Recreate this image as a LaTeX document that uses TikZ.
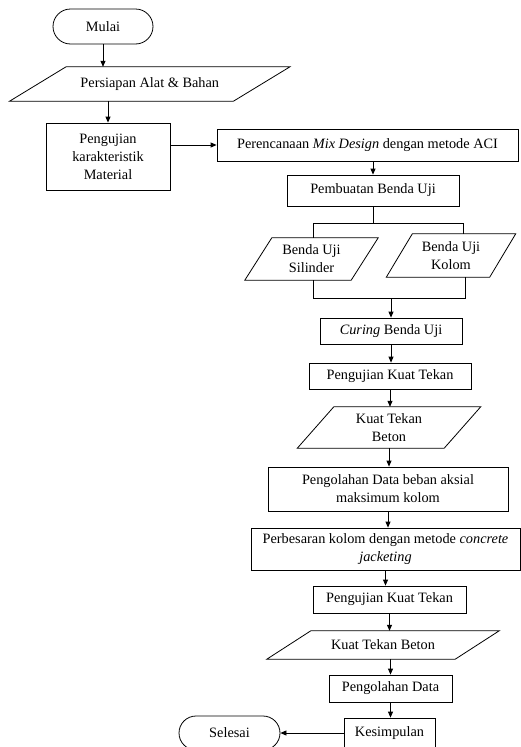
\documentclass[tikz,border=0pt]{standalone}
\usepackage{fontspec}
\setmainfont{Liberation Serif}
\usetikzlibrary{arrows.meta,shapes.misc,calc}
\newcommand{\mypara}[7]{%
  \node[pnode, minimum width=#4pt, minimum height=#5pt] (#1) at (#2,#3) {#7};
  \draw[line] ($(#1.north west)+(#6/2,0)$) -- ($(#1.north east)+(#6/2,0)$) -- ($(#1.south east)+(-#6/2,0)$) -- ($(#1.south west)+(-#6/2,0)$) -- cycle;}
\begin{document}
\begin{tikzpicture}[x=1pt,y=-1pt,
  every node/.style={font=\fontsize{14.3}{18}\selectfont, inner sep=0pt, align=center},
  line/.style={draw=black, line width=0.8pt},
  box/.style={draw=black, line width=0.8pt, rectangle},
  pnode/.style={rectangle},
  term/.style={draw=black, line width=0.8pt, rounded rectangle},
  arr/.style={line, -{Triangle[length=6pt,width=5pt]}}]
\useasboundingbox (0,0) rectangle (521,747);
\clip (0,0) rectangle (521,747);
\fill[white] (0,0) rectangle (521,747);

\node[term, minimum width=100pt, minimum height=35pt] (mulai) at (103,26.5) {Mulai};
\mypara{persiapan}{149.75}{84}{223.5}{34}{56.5}{Persiapan Alat \& Bahan}
\node[box, minimum width=124pt, minimum height=67pt] (karak) at (108,156.5) {Pengujian\\karakteristik\\Material};
\node[box, minimum width=301pt, minimum height=32pt] (peren) at (367.5,145) {Perencanaan \textit{Mix Design} dengan metode ACI};
\node[box, minimum width=172pt, minimum height=31pt] (pemb) at (373,190.5) {Pembuatan Benda Uji};
\mypara{sil}{311.5}{259}{106}{42}{27}{Benda Uji\\Silinder}
\mypara{kol}{451}{255.5}{103}{43}{26}{Benda Uji\\Kolom}
\node[box, minimum width=142pt, minimum height=26pt] (cur) at (391,331) {\textit{Curing} Benda Uji};
\node[box, minimum width=162pt, minimum height=26pt] (pkt1) at (390,376) {Pengujian Kuat Tekan};
\mypara{ktb1}{389}{427.5}{146.5}{41}{36.5}{Kuat Tekan\\Beton}
\node[box, minimum width=240pt, minimum height=44pt] (olah1) at (388,489) {Pengolahan Data beban aksial\\maksimum kolom};
\node[box, minimum width=269pt, minimum height=42pt] (besar) at (385.5,549) {Perbesaran kolom dengan metode \textit{concrete}\\\textit{jacketing}};
\node[box, minimum width=153pt, minimum height=27pt] (pkt2) at (389.5,599.5) {Pengujian Kuat Tekan};
\mypara{ktb2}{383}{645}{188}{28}{44}{Kuat Tekan Beton}
\node[box, minimum width=123pt, minimum height=27pt] (olah2) at (390.5,688.5) {Pengolahan Data};
\node[box, minimum width=91pt, minimum height=30pt] (kes) at (389.5,733) {Kesimpulan};
\node[term, minimum width=101pt, minimum height=34pt] (sel) at (229.5,733) {Selesai};

\draw[arr] (mulai.south) -- (mulai.south |- persiapan.north);
\draw[arr] (karak.north |- persiapan.south) -- (karak.north);
\draw[arr] (karak.east |- peren.west) -- (peren.west);
\draw[arr] (pemb.north |- peren.south) -- (pemb.north);

\coordinate (sp) at (373,223);
\coordinate (jL) at (313,223);
\coordinate (jR) at (463,223);
\draw[line] (pemb.south -| sp) -- (sp);
\draw[line] (jL |- sil.north) -- (jL) -- (jR) -- (jR |- kol.north);
\coordinate (mL) at (313,298);
\coordinate (mR) at (465,298);
\draw[line] (mL |- sil.south) -- (mL) -- (mR) -- (mR |- kol.south);
\draw[arr] (cur.north |- mL) -- (cur.north);

\draw[arr] (cur.south) -- (cur.south |- pkt1.north);
\draw[arr] (pkt1.south) -- (pkt1.south |- ktb1.north);
\draw[arr] (ktb1.south) -- (ktb1.south |- olah1.north);
\draw[arr] (olah1.south) -- (olah1.south |- besar.north);
\draw[arr] (besar.south) -- (besar.south |- pkt2.north);
\draw[arr] (pkt2.south) -- (pkt2.south |- ktb2.north);
\draw[arr] (olah2.north |- ktb2.south) -- (olah2.north);
\draw[arr] (olah2.south) -- (olah2.south |- kes.north);
\draw[arr] (kes.west) -- (sel.east);
\end{tikzpicture}
\end{document}
